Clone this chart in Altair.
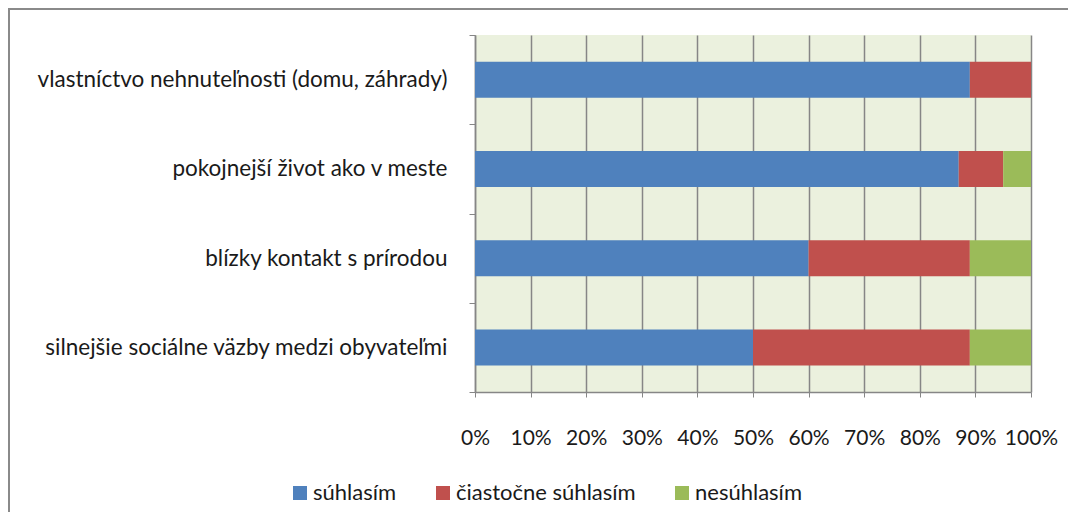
import altair as alt
import pandas as pd

categories = [
    "vlastníctvo nehnuteľnosti (domu, záhrady)",
    "pokojnejší život ako v meste",
    "blízky kontakt s prírodou",
    "silnejšie sociálne väzby medzi obyvateľmi",
]
series = ["súhlasím", "čiastočne súhlasím", "nesúhlasím"]
suhlasim = [89, 87, 60, 50]
ciastocne = [11, 8, 29, 39]
nesuhlasim = [0, 5, 11, 11]
x_ticks = [0, 10, 20, 30, 40, 50, 60, 70, 80, 90, 100]
colors = ["#4F81BD", "#C0504D", "#9BBB59"]

rows = []
for i, c in enumerate(categories):
    for j, (s, vals) in enumerate(zip(series, [suhlasim, ciastocne, nesuhlasim])):
        rows.append({"kategoria": c, "odpoved": s, "poradie": j, "hodnota": vals[i]})
df = pd.DataFrame(rows)

FONT = "Lato"
TXT = "#1a1a1a"
GRID = "#868686"

bars = alt.Chart(df).mark_bar(size=36).encode(
    y=alt.Y("kategoria:N", sort=categories, title=None,
            scale=alt.Scale(paddingInner=0, paddingOuter=0),
            axis=alt.Axis(tickBand="extent", labelPadding=22, tickSize=6,
                          domainColor=GRID, tickColor=GRID, domainWidth=1.5,
                          labelFontSize=22.5, labelFont=FONT, labelColor=TXT,
                          labelLimit=600)),
    x=alt.X("hodnota:Q", stack="zero", title=None,
            scale=alt.Scale(domain=[0, 100], nice=False),
            axis=alt.Axis(values=x_ticks, labelExpr="datum.value + '%'",
                          labelOverlap=False, labelFlush=False,
                          grid=True, gridColor=GRID, gridWidth=1.5,
                          domainColor=GRID, domainWidth=1.5, tickColor=GRID, tickSize=5,
                          labelPadding=30, labelFontSize=21, labelFont=FONT,
                          labelColor=TXT)),
    color=alt.Color("odpoved:N", sort=series,
                    scale=alt.Scale(domain=series, range=colors),
                    legend=alt.Legend(title=None, orient="none", direction="horizontal",
                                      legendX=-186, legendY=447, symbolType="square",
                                      symbolSize=196, symbolStrokeWidth=0,
                                      labelFontSize=22, labelFont=FONT, labelLimit=400,
                                      labelColor=TXT, columnPadding=35,
                                      labelOffset=2, padding=0)),
    order=alt.Order("poradie:Q"),
)

border = alt.Chart(alt.Data(values=[{"a": 1}])).mark_rect(
    fill="transparent", stroke="#8A8A8A", strokeWidth=2
).encode(
    x=alt.value(-466), x2=alt.value(640),
    y=alt.value(-26), y2=alt.value(520),
)

chart = alt.layer(bars, border).properties(
    width=556, height=357,
    autosize=alt.AutoSizeParams(type="none"),
    padding={"left": 467, "top": 27, "right": 37, "bottom": 120},
).configure(
    background="white",
    view=alt.ViewConfig(fill="#EBF1DE", stroke=None),
)

chart.save("out.html", embed_options={"renderer": "svg", "actions": False})
